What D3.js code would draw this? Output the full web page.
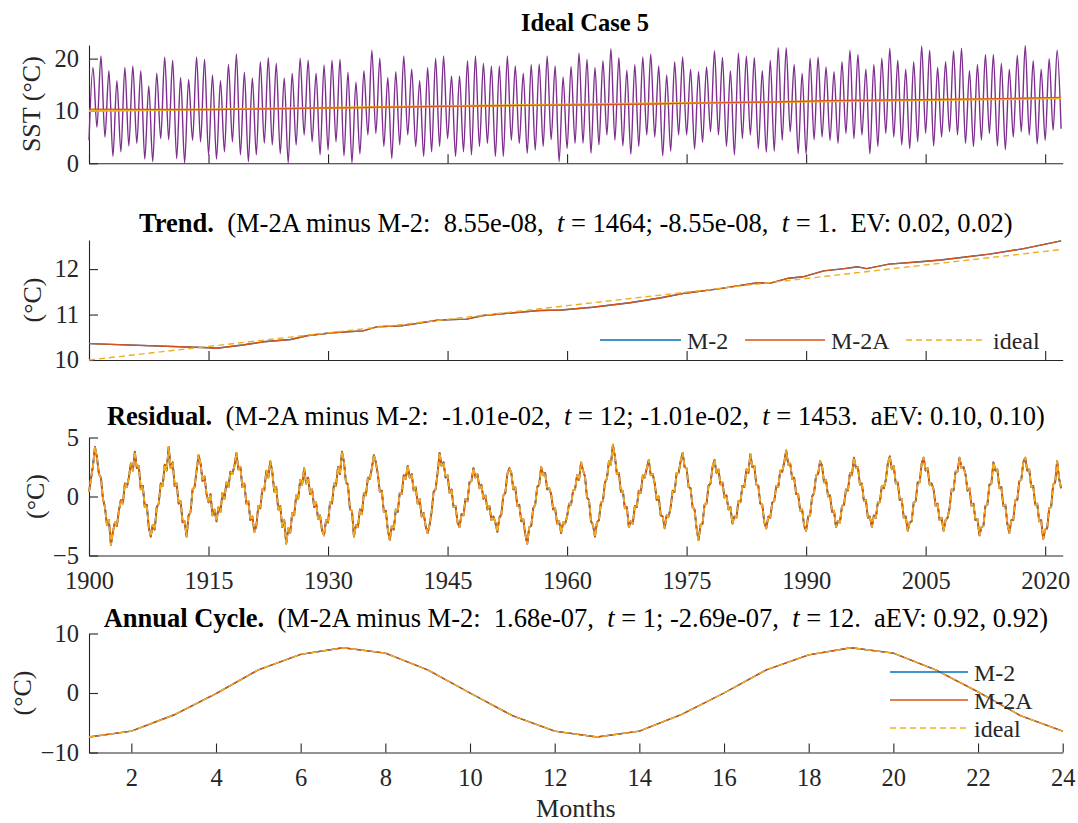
<!DOCTYPE html>
<html>
<head>
<meta charset="utf-8">
<script src="https://cdn.jsdelivr.net/npm/d3@7"></script>
<style>
  body { margin: 0; background: #fff; }
  svg text { font-family: "Liberation Serif", "Times New Roman", serif; fill: #262626; white-space: pre; }
</style>
</head>
<body>
<div id="chart"></div>
<script>
// ---- data ----
const yearTicks = [1900, 1915, 1930, 1945, 1960, 1975, 1990, 2005, 2020];
const monthTicks = [2, 4, 6, 8, 10, 12, 14, 16, 18, 20, 22, 24];

// raw SST: January minimum of each year 1900..2022, July maximum of each year 1900..2021
const sstTroughs = [
  4.4, 6.9, 5.0, 1.3, 2.2, 3.3, 3.8, 0.8, 0.3, 4.7,
  4.5, 0.9, 0.1, 4.4, 4.1, 1.6, 0.8, 2.2, 4.1, 1.6,
  0.3, 1.6, 3.8, 3.5, 1.8, 0.1, 3.5, 5.4, 4.1, 1.6,
  2.5, 4.1, 1.4, 0.1, 1.8, 5.4, 5.7, 3.2, 0.9, 3.5,
  5.4, 3.2, 1.3, 2.2, 3.2, 4.7, 1.3, 2.2, 1.6, 3.2,
  3.8, 1.3, 1.3, 4.4, 3.8, 1.9, 2.5,
  3.2, 4.5, 0.3, 2.8, 3.8, 3.8, 1.9, 3.5, 5.4, 4.4,
  3.3, 1.7, 3.2, 5.4, 5.0, 1.4, 2.3, 5.4, 5.4, 2.7,
  4.0, 6.0, 5.4, 3.2, 1.6, 4.7, 5.4, 2.8, 2.1, 2.3,
  4.4, 6.0, 1.8, 1.7, 4.5, 5.0, 4.4, 3.8, 5.7, 4.7,
  5.4, 1.8, 3.2, 5.7, 5.0, 3.5, 2.8, 4.1, 5.7, 3.3,
  5.0, 6.0, 5.4, 3.8, 3.2, 4.4, 5.7, 3.3, 2.6, 5.0,
  6.0, 5.4, 3.7, 4.4, 6.3, 6.6
];
const sstPeaks = [
  18.3, 20.5, 17.7, 15.8, 18.3, 18.6, 17.7, 14.8, 17.2, 20.3,
  19.7, 16.4, 16.0, 20.3, 19.9, 16.9, 15.8, 18.9, 20.9, 17.4,
  16.3, 19.4, 20.2, 19.1, 16.3, 17.2, 20.1, 19.7, 17.2, 18.8,
  19.7, 19.9, 17.4, 15.5, 17.7, 21.6, 20.1, 16.4, 17.5, 20.5,
  18.0, 15.8, 18.3, 20.1, 20.5, 16.7, 16.7, 19.6, 20.5, 19.1,
  18.6, 18.6, 20.5, 18.6, 17.2, 18.9, 19.0,
  20.5, 18.6, 16.5, 18.5, 21.1, 19.9, 18.3, 19.6, 21.9, 20.2,
  17.8, 18.9, 20.3, 20.9, 18.6, 16.9, 19.4, 20.3, 18.0, 17.5,
  18.4, 21.5, 20.2, 17.7, 21.1, 20.5, 20.2, 17.7, 19.7, 22.1,
  22.1, 18.9, 17.2, 20.1, 20.3, 18.4, 17.5, 19.4, 21.6, 20.8,
  18.0, 18.9, 20.1, 22.0, 19.7, 18.0, 19.4, 22.4, 21.6, 18.3,
  19.4, 21.5, 22.0, 17.7, 18.9, 20.8, 20.8, 19.1, 18.0, 20.6,
  22.5, 19.6, 18.0, 20.0, 21.6
];

// trend (M-2 and M-2A coincide to 1e-7)
const trendYears = [1900, 1915.1, 1916, 1919.3, 1921.9, 1925.3, 1927.5, 1930.5, 1934.4, 1936.1,
  1939.2, 1943.9, 1947.4, 1949.5, 1956.5, 1959.3, 1963.2, 1967.9, 1971.8, 1974.8,
  1979.2, 1983.9, 1985.5, 1987.8, 1989.6, 1992.2, 1994.8, 1996.5, 1997.6, 2000.4,
  2004.3, 2006.9, 2013, 2017.3, 2022];
const trendM2A = [10.36, 10.27, 10.26, 10.33, 10.40, 10.45, 10.54, 10.60, 10.64, 10.73,
  10.75, 10.88, 10.90, 10.98, 11.09, 11.10, 11.16, 11.26, 11.37, 11.47,
  11.57, 11.70, 11.69, 11.80, 11.83, 11.96, 12.01, 12.05, 12.01, 12.11,
  12.16, 12.20, 12.33, 12.45, 12.62];
const trendM2 = trendM2A;
const idealYears = [1900, 2022];
const idealTrend = [10.0, 12.43];

// residual, quarterly from 1900.00
const residual = [
  0.4, 1.5, 2.6, 4.2, 3.3, 1.9, 1.6, -0.2, -0.9, -2.4, -2.0, -4.1, -3.0, -2.2, -2.5, -1.2,
  -0.3, -0.6, 1.1, 0.8, 1.6, 2.8, 2.2, 3.8, 2.4, 2.6, 0.6, 0.9, -0.9, -0.7, -2.6, -3.4,
  -2.4, -2.8, -0.9, -0.6, 1.1, 0.9, 2.7, 2.2, 4.2, 2.4, 2.9, 0.9, 1.1, -0.6, -0.4, -2.2,
  -2.1, -3.4, -1.6, -1.3, 0.6, 0.8, 2.2, 3.5, 2.8, 1.3, 1.7, 0.2, -0.5, 0.2, -1.6, -1.1,
  -2.1, -0.9, -1.3, 0.3, -0.2, 1.2, 0.8, 2.1, 1.9, 2.6, 3.7, 2.3, 2.5, 0.8, 1.1, -0.6,
  -0.4, -2.0, -1.7, -3.0, -2.5, -0.8, -1.0, 0.6, 0.5, 2.2, 1.6, 3.0, 2.1, 0.4, 0.8, -1.1,
  -0.8, -2.6, -2.0, -4.0, -2.7, -3.1, -1.4, -1.6, 0.1, -0.2, 1.4, 1.0, 2.4, 1.1, 1.6, 0.2,
  0.6, -0.9, -0.5, -1.9, -1.6, -2.9, -3.3, -2.0, -2.2, -0.5, -0.6, 1.1, 0.9, 2.5, 1.9, 3.8,
  2.9, 1.2, 1.0, -1.1, -1.2, -3.4, -2.4, -2.6, -1.1, -1.5, 0.3, 0.1, 1.6, 1.5, 2.4, 3.5,
  2.9, 1.9, 0.4, 0.5, -1.3, -1.2, -2.8, -3.7, -2.5, -2.8, -1.1, -1.3, 0.3, 0.2, 1.8, 1.5,
  2.6, 1.6, 1.9, 0.5, 0.8, -0.6, -0.2, -1.7, -1.4, -2.5, -3.1, -2.4, -1.3, 0.4, 0.6, 2.0,
  3.7, 2.6, 2.9, 1.6, 1.8, 0.3, 0.6, -0.9, -0.8, -2.2, -2.6, -1.5, -1.6, -0.2, -0.4, 1.2,
  1.3, 2.4, 1.6, 1.9, 0.7, 1.0, -0.2, 0.1, -1.1, -0.8, -2.0, -1.7, -2.2, -3.0, -1.8, -1.5,
  0.1, 0.3, 1.9, 2.4, 2.0, 0.6, 0.8, -0.8, -0.7, -2.1, -1.9, -3.2, -4.0, -2.6, -2.5, -1.0,
  -0.7, 0.8, 1.0, 2.5, 1.8, 2.0, 0.6, 0.7, 0.2, -1.1, -1.0, -2.3, -2.1, -3.1, -2.2, -2.3,
  -1.7, -0.6, -0.7, 0.5, 0.6, 1.8, 1.4, 2.9, 2.2, 1.7, -0.1, -0.3, -2.1, -2.4, -3.4, -2.2,
  -2.0, -0.5, -0.4, 1.2, 1.5, 3.0, 2.7, 4.4, 3.4, 1.9, 2.0, 0.4, 0.5, -1.0, -0.9, -2.6,
  -2.1, -2.3, -0.8, -0.9, 0.5, 0.3, 1.8, 1.6, 2.4, 3.1, 1.8, 1.9, 1.1, -0.3, 0.0, -1.6,
  -1.7, -2.7, -1.6, -1.7, -0.9, 0.5, 0.4, 2.0, 2.0, 3.0, 3.7, 2.5, 2.4, 0.8, 0.7, -0.9,
  -1.1, -2.7, -3.7, -2.4, -2.3, -0.7, -0.6, 0.9, 1.1, 2.5, 3.1, 2.0, 2.3, 1.0, 1.2, -0.1,
  0.1, -1.1, -0.9, -2.3, -1.7, -1.8, -0.4, -0.5, 0.9, 0.8, 2.3, 2.0, 3.6, 2.5, 2.6, 1.0,
  0.9, -0.6, -0.7, -2.2, -2.7, -1.7, -1.8, -0.5, -0.4, 0.9, 0.8, 2.2, 2.1, 2.9, 3.9, 2.7,
  2.8, 1.5, 1.6, 0.2, 0.2, -1.2, -1.1, -2.5, -2.9, -1.7, -1.6, 0.0, 0.3, 1.8, 1.9, 3.0,
  2.6, 1.2, 1.4, 0.0, 0.1, -1.3, -1.2, -2.6, -2.1, -2.2, -0.8, -0.7, 0.6, 0.5, 2.0, 1.8,
  3.3, 2.4, 2.5, 1.0, 1.1, -0.4, -0.3, -1.8, -1.7, -2.6, -1.6, -1.8, -0.5, -0.5, 0.9, 0.7,
  1.4, 2.8, 3.4, 2.3, 2.6, 1.1, 1.2, -0.3, -0.2, -1.8, -1.7, -2.9, -2.2, -2.1, -0.5, -0.4,
  1.2, 1.2, 2.8, 3.3, 2.2, 2.4, 1.0, 1.1, 0.6, -0.8, -0.6, -2.0, -1.8, -2.9, -2.0, -1.8,
  -1.0, 0.6, 0.5, 2.1, 2.1, 3.3, 2.4, 2.5, 1.9, 0.5, 0.7, -0.8, -0.6, -2.0, -1.9, -3.3,
  -2.6, -2.5, -0.8, -0.7, 1.0, 1.1, 2.9, 2.2, 2.3, 0.7, 0.8, -0.8, -0.7, -2.3, -3.1, -2.0,
  -2.0, -0.3, -0.3, 1.3, 1.4, 2.9, 3.3, 2.2, 2.3, 0.8, 0.9, -0.7, -0.6, -2.1, -2.0, -3.6,
  -2.8, -2.7, -1.0, -0.9, 1.0, 1.2, 3.0, 1.5, 0.7
];

// annual cycle, months 1..24
const months = [1, 2, 3, 4, 5, 6, 7, 8, 9, 10, 11, 12, 13, 14, 15, 16, 17, 18, 19, 20, 21, 22, 23, 24];
const annualCycle = [-7.4, -6.4, -3.7, -0.1, 3.9, 6.5, 7.6, 6.7, 3.9, 0.0, -3.8, -6.4,
  -7.4, -6.4, -3.6, 0.0, 3.9, 6.4, 7.6, 6.7, 3.9, 0.2, -3.8, -6.4];

// ---- drawing ----
const C = { purple: "#7E2F8E", blue: "#0072BD", red: "#D95319", yellow: "#EDB120", axis: "#262626" };
const left = 89, right = 1062.7, tick = 9;
const fsTick = 24.5, fsTitle = 26.5, fsLabel = 26, fsLegend = 24;

const svg = d3.select("#chart").append("svg")
  .attr("width", 1078)
  .attr("height", 823);

const xYear = d3.scaleLinear().domain([1900, 2022.2]).range([left, right]);
const xMonth = d3.scaleLinear().domain([1, 24]).range([left, right]);

function makeAxes(top, bottom, yDomain, yTicks, x, xTicks, showLabels) {
  const y = d3.scaleLinear().domain(yDomain).range([bottom, top]);
  const g = svg.append("g");
  const ya = g.append("g").attr("transform", `translate(${left},0)`)
    .call(d3.axisLeft(y).tickValues(yTicks).tickFormat(d3.format("d"))
      .tickSizeInner(-tick).tickSizeOuter(0).tickPadding(10));
  const xa = g.append("g").attr("transform", `translate(0,${bottom})`)
    .call(d3.axisBottom(x).tickValues(xTicks).tickSizeInner(-tick).tickSizeOuter(0).tickPadding(16)
      .tickFormat(showLabels ? d3.format("d") : () => ""));
  [ya, xa].forEach(a => {
    a.selectAll("path.domain").attr("stroke", C.axis).attr("stroke-width", 1.1);
    a.selectAll(".tick line").attr("stroke", C.axis).attr("stroke-width", 1.1);
    a.selectAll(".tick text").attr("font-size", fsTick).attr("fill", C.axis)
      .style("font-family", '"Liberation Serif", serif');
  });
  return y;
}

function ylabel(txt, xc, top, bottom) {
  svg.append("text")
    .attr("transform", `translate(${xc},${(top + bottom) / 2}) rotate(-90)`)
    .attr("text-anchor", "middle").attr("dominant-baseline", "central")
    .attr("font-size", fsLabel).text(txt);
}

function title(parts, baseline, size, cx) {
  const t = svg.append("text").attr("x", cx || (left + right) / 2).attr("y", baseline)
    .attr("text-anchor", "middle").attr("font-size", size || fsTitle).style("fill", "#000");
  parts.forEach(p => t.append("tspan")
    .attr("font-weight", p.b ? "bold" : null)
    .attr("font-style", p.i ? "italic" : null)
    .text(p.s));
}

function path(data, x, y, color, w, dash) {
  return svg.append("path").datum(data)
    .attr("fill", "none").attr("stroke", color).attr("stroke-width", w)
    .attr("stroke-dasharray", dash || null)
    .attr("stroke-linejoin", "round")
    .attr("d", d3.line().x(d => x(d[0])).y(d => y(d[1])));
}

const zip = (xs, ys) => xs.map((v, i) => [v, ys[i]]);
const residX = residual.map((_, i) => 1900 + i / 4);

// panel 1: raw SST
const y1 = makeAxes(45, 163.3, [0, 22.6], [0, 10, 20], xYear, yearTicks, false);
const sstSeries = [];
sstTroughs.forEach((v, i) => {
  sstSeries.push([1900 + i, v]);
  if (i < sstPeaks.length) sstSeries.push([1900.5 + i, sstPeaks[i]]);
});
svg.append("path").datum(sstSeries)
  .attr("fill", "none").attr("stroke", C.purple).attr("stroke-width", 1.4)
  .attr("d", d3.line().curve(d3.curveMonotoneX).x(d => xYear(d[0])).y(d => y1(d[1])));
path(zip(idealYears, idealTrend), xYear, y1, C.yellow, 2.2);
path(zip(trendYears, trendM2A), xYear, y1, C.red, 1.2);
ylabel("SST (°C)", 31, 45, 163.3);
title([{ s: "Ideal Case 5", b: true }], 31, 24.5, 585);

// panel 2: trend
const y2 = makeAxes(240, 360, [10, 12.64], [10, 11, 12], xYear, yearTicks, false);
path(zip(trendYears, trendM2), xYear, y2, C.blue, 1.4);
path(zip(trendYears, trendM2A), xYear, y2, C.red, 1.4);
path(zip(idealYears, idealTrend), xYear, y2, C.yellow, 1.4, "6,4");
ylabel("(°C)", 32, 240, 360);
title([
  { s: "Trend.", b: true }, { s: "  (M-2A minus M-2:  8.55e-08,  " }, { s: "t", i: true },
  { s: " = 1464; -8.55e-08,  " }, { s: "t", i: true }, { s: " = 1.  EV: 0.02, 0.02)" }
], 232);

const legend2 = [
  { name: "M-2", color: C.blue, x0: 600, x1: 681, tx: 687 },
  { name: "M-2A", color: C.red, x0: 745, x1: 825, tx: 831 },
  { name: "ideal", color: C.yellow, x0: 906, x1: 985, tx: 993, dash: "6,4" }
];
legend2.forEach(d => {
  svg.append("line").attr("x1", d.x0).attr("x2", d.x1).attr("y1", 340).attr("y2", 340)
    .attr("stroke", d.color).attr("stroke-width", 1.4).attr("stroke-dasharray", d.dash || null);
  svg.append("text").attr("x", d.tx).attr("y", 349).attr("font-size", fsLegend).text(d.name);
});

// panel 3: residual
const y3 = makeAxes(437.5, 555.5, [-5, 5], [-5, 0, 5], xYear, yearTicks, true);
const residData = zip(residX, residual);
path(residData, xYear, y3, C.blue, 1.8);
path(residData, xYear, y3, C.red, 1.8);
path(residData, xYear, y3, C.yellow, 1.8, "5,3");
ylabel("(°C)", 35, 437.5, 555.5);
title([
  { s: "Residual.", b: true }, { s: "  (M-2A minus M-2:  -1.01e-02,  " }, { s: "t", i: true },
  { s: " = 12; -1.01e-02,  " }, { s: "t", i: true }, { s: " = 1453.  aEV: 0.10, 0.10)" }
], 425);

// panel 4: annual cycle
const y4 = makeAxes(633.5, 752.5, [-10, 10], [-10, 0, 10], xMonth, monthTicks, true);
const annData = zip(months, annualCycle);
path(annData, xMonth, y4, C.blue, 1.4);
path(annData, xMonth, y4, C.red, 1.4);
path(annData, xMonth, y4, C.yellow, 1.4, "6,4");
ylabel("(°C)", 22, 633.5, 752.5);
title([
  { s: "Annual Cycle.", b: true }, { s: "  (M-2A minus M-2:  1.68e-07,  " }, { s: "t", i: true },
  { s: " = 1; -2.69e-07,  " }, { s: "t", i: true }, { s: " = 12.  aEV: 0.92, 0.92)" }
], 627);
svg.append("text").attr("x", (left + right) / 2).attr("y", 817)
  .attr("text-anchor", "middle").attr("font-size", fsLabel).text("Months");

const legend4 = [
  { name: "M-2", color: C.blue, y: 672 },
  { name: "M-2A", color: C.red, y: 700 },
  { name: "ideal", color: C.yellow, y: 728, dash: "6,4" }
];
legend4.forEach(d => {
  svg.append("line").attr("x1", 890).attr("x2", 968).attr("y1", d.y).attr("y2", d.y)
    .attr("stroke", d.color).attr("stroke-width", 1.4).attr("stroke-dasharray", d.dash || null);
  svg.append("text").attr("x", 974).attr("y", d.y + 9).attr("font-size", fsLegend).text(d.name);
});
</script>
</body>
</html>
